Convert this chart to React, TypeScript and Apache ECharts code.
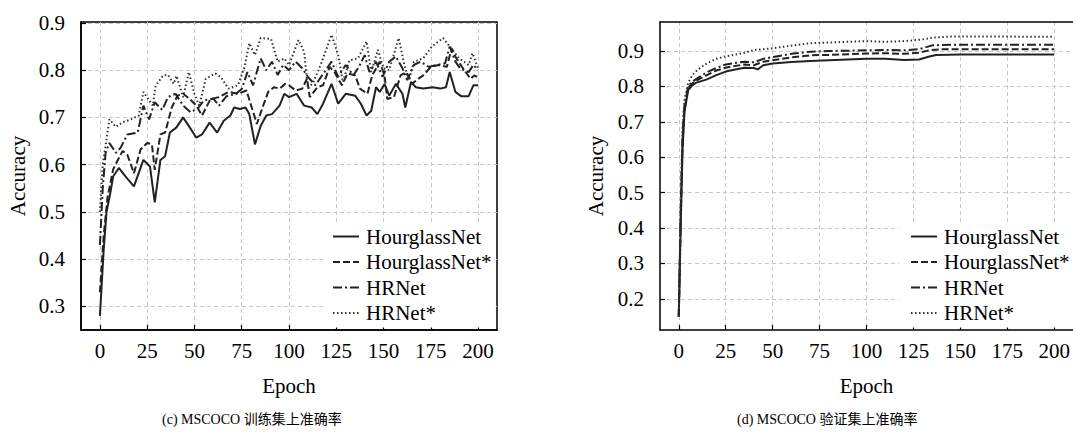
import React, { useEffect, useRef } from "react";
import * as echarts from "echarts";

const SERIES_NAMES = ["HourglassNet", "HourglassNet*", "HRNet", "HRNet*"];
const X_TICKS = [0, 25, 50, 75, 100, 125, 150, 175, 200];
const TRAIN_Y_TICKS = [0.3, 0.4, 0.5, 0.6, 0.7, 0.8, 0.9];
const VAL_Y_TICKS = [0.2, 0.3, 0.4, 0.5, 0.6, 0.7, 0.8, 0.9];
const CAPTION_TRAIN = "(c) MSCOCO 训练集上准确率";
const CAPTION_VAL = "(d) MSCOCO 验证集上准确率";

// Training accuracy [epoch, accuracy]
const trainHourglass = [
  [0, 0.28], [2, 0.42], [3.5, 0.5], [5.5, 0.54], [7, 0.575], [10, 0.593], [13.5, 0.575], [18, 0.554],
  [23, 0.61], [26.5, 0.596], [29, 0.52], [32, 0.61], [34.5, 0.618], [37, 0.668], [40.5, 0.679],
  [44, 0.7], [47.5, 0.679], [51, 0.657], [54, 0.664], [58, 0.689], [62, 0.668], [65.5, 0.693],
  [69, 0.704], [71, 0.721], [74, 0.718], [77, 0.721], [79, 0.707], [82, 0.643], [85, 0.682],
  [88, 0.704], [91, 0.707], [95, 0.725], [97.5, 0.75], [100, 0.743], [104, 0.75], [108, 0.725],
  [112, 0.721], [115, 0.707], [118, 0.729], [122.5, 0.771], [126, 0.729], [130, 0.75], [135, 0.746],
  [138, 0.729], [141, 0.704], [143.5, 0.714], [146, 0.764], [148, 0.754], [150.5, 0.771], [153, 0.746],
  [156.5, 0.771], [160, 0.75], [161.5, 0.721], [164.5, 0.775], [167, 0.764], [171, 0.761], [176, 0.764],
  [180, 0.761], [183, 0.764], [185, 0.796], [188, 0.754], [191, 0.745], [195, 0.745], [197.5, 0.768],
  [200, 0.768],
];
const trainHourglassStar = [
  [0, 0.33], [2, 0.45], [4, 0.53], [7, 0.59], [9.5, 0.61], [12, 0.629], [14.5, 0.621], [18, 0.582],
  [21.5, 0.632], [25, 0.646], [27.5, 0.643], [29, 0.589], [32, 0.664], [34.5, 0.668], [38, 0.721],
  [41, 0.746], [44, 0.75], [47.5, 0.739], [51, 0.725], [54, 0.704], [58.5, 0.739], [63, 0.743],
  [68, 0.754], [73, 0.75], [77.5, 0.757], [80, 0.725], [83, 0.686], [86, 0.721], [89, 0.754],
  [92, 0.764], [95, 0.761], [98, 0.771], [100, 0.768], [103.5, 0.757], [107, 0.761], [109.5, 0.782],
  [111, 0.743], [115, 0.764], [118, 0.768], [121.5, 0.807], [124, 0.796], [128, 0.768], [131, 0.793],
  [135, 0.789], [137.5, 0.761], [141.5, 0.75], [144, 0.789], [148, 0.818], [150.5, 0.789], [152, 0.739],
  [155.5, 0.743], [159, 0.789], [162, 0.796], [165, 0.771], [168.5, 0.782], [171, 0.789], [175, 0.807],
  [179, 0.811], [183.5, 0.807], [186, 0.846], [188.5, 0.825], [192, 0.804], [196, 0.782], [198, 0.789],
  [200, 0.785],
];
const trainHRNet = [
  [0, 0.43], [1.5, 0.55], [3, 0.625], [5, 0.646], [8.5, 0.625], [11, 0.636], [14.5, 0.664], [20, 0.668],
  [23, 0.725], [26, 0.696], [29, 0.732], [33, 0.716], [36, 0.743], [40, 0.75], [44, 0.725], [48, 0.711],
  [52, 0.72], [55, 0.736], [60, 0.74], [63, 0.725], [67, 0.745], [72, 0.75], [75, 0.76], [78, 0.796],
  [81, 0.768], [85, 0.825], [88, 0.8], [91, 0.818], [94, 0.79], [97, 0.811], [100, 0.8], [103.5, 0.818],
  [107, 0.804], [110, 0.786], [114, 0.768], [117, 0.786], [122.5, 0.818], [126, 0.786], [130, 0.811],
  [134, 0.789], [137, 0.807], [140, 0.832], [142.5, 0.796], [146, 0.818], [149.5, 0.786], [153, 0.818],
  [156.5, 0.829], [160, 0.804], [162.5, 0.779], [166, 0.811], [169.5, 0.818], [174, 0.807], [178, 0.811],
  [182.5, 0.814], [185, 0.85], [188, 0.818], [190.5, 0.804], [195, 0.796], [197.5, 0.811], [200, 0.8],
];
const trainHRNetStar = [
  [0, 0.5], [1.5, 0.6], [3, 0.64], [5, 0.696], [8.5, 0.68], [12, 0.69], [16, 0.695], [20.5, 0.704],
  [23, 0.754], [26, 0.736], [28, 0.725], [29.5, 0.768], [33.5, 0.789], [36, 0.79], [39, 0.771],
  [40.5, 0.788], [44, 0.743], [47, 0.796], [50, 0.75], [52.5, 0.725], [56, 0.782], [61, 0.793],
  [64, 0.785], [68, 0.761], [73, 0.768], [76.5, 0.807], [79, 0.857], [82, 0.832], [85, 0.868],
  [90.5, 0.866], [94, 0.818], [97.5, 0.825], [100, 0.811], [105, 0.864], [108, 0.839], [110, 0.761],
  [113, 0.775], [117, 0.814], [122.5, 0.875], [126, 0.832], [128.5, 0.775], [132, 0.821], [136.5, 0.825],
  [141, 0.861], [143.5, 0.796], [147, 0.843], [150, 0.804], [153, 0.8], [158, 0.868], [161, 0.811],
  [163.5, 0.779], [166, 0.818], [171, 0.825], [175.5, 0.85], [181.5, 0.868], [185, 0.85], [190, 0.825],
  [195, 0.811], [197, 0.836], [200, 0.804],
];

// Validation accuracy [epoch, accuracy]
const valHourglass = [
  [0, 0.15], [1, 0.4], [2, 0.62], [3, 0.726], [5, 0.79], [7, 0.802], [9, 0.81], [12, 0.815], [15, 0.82],
  [20, 0.832], [25, 0.842], [30, 0.848], [35, 0.853], [40, 0.852], [42, 0.848], [45, 0.86], [50, 0.865],
  [60, 0.869], [70, 0.872], [80, 0.874], [90, 0.876], [100, 0.878], [110, 0.878], [120, 0.875],
  [128, 0.876], [133, 0.884], [137, 0.889], [150, 0.89], [175, 0.89], [200, 0.89],
];
const valHourglassStar = [
  [0, 0.15], [1, 0.42], [2, 0.64], [3, 0.735], [5, 0.795], [7, 0.808], [9, 0.815], [12, 0.824],
  [15, 0.832], [20, 0.845], [25, 0.853], [30, 0.858], [35, 0.862], [40, 0.86], [45, 0.87], [50, 0.874],
  [60, 0.882], [70, 0.888], [80, 0.889], [90, 0.891], [100, 0.893], [110, 0.894], [120, 0.892],
  [128, 0.895], [134, 0.903], [140, 0.905], [170, 0.905], [200, 0.905],
];
const valHRNet = [
  [0, 0.15], [1, 0.44], [2, 0.66], [3, 0.745], [5, 0.8], [7, 0.812], [9, 0.82], [12, 0.83], [15, 0.84],
  [20, 0.852], [25, 0.862], [30, 0.866], [35, 0.87], [40, 0.868], [45, 0.878], [50, 0.883], [60, 0.892],
  [70, 0.898], [80, 0.9], [90, 0.901], [100, 0.902], [110, 0.903], [120, 0.902], [128, 0.905],
  [135, 0.916], [145, 0.918], [170, 0.918], [200, 0.918],
];
const valHRNetStar = [
  [0, 0.15], [1, 0.46], [2, 0.68], [3, 0.76], [5, 0.81], [7, 0.83], [9, 0.842], [12, 0.855], [15, 0.865],
  [20, 0.878], [25, 0.885], [30, 0.89], [35, 0.895], [40, 0.903], [45, 0.905], [50, 0.908], [60, 0.915],
  [70, 0.922], [80, 0.924], [90, 0.926], [100, 0.928], [110, 0.926], [120, 0.928], [125, 0.93],
  [130, 0.933], [135, 0.938], [145, 0.941], [170, 0.941], [200, 0.94],
];

const TRAIN_DATA = [trainHourglass, trainHourglassStar, trainHRNet, trainHRNetStar];
const VAL_DATA = [valHourglass, valHourglassStar, valHRNet, valHRNetStar];

const SERIF = "Liberation Serif, Times New Roman, serif";
const CAPTION_FONT = "14px Liberation Serif, Noto Sans CJK SC, serif";
const LINE_TYPES: any[] = ["solid", [7, 3], [9, 3, 2, 3], [1.5, 2.5]];
const LINE_COLORS = ["#222", "#222", "#222", "#333"];

function xAxisFor(gridIndex: number) {
  return {
    type: "value",
    gridIndex,
    min: -10,
    max: 210,
    name: "Epoch",
    nameLocation: "middle",
    nameGap: 45,
    nameTextStyle: { fontFamily: SERIF, fontSize: 21, color: "#000" },
    axisLine: { onZero: false, lineStyle: { color: "#000", width: 1.5 } },
    axisTick: { inside: true, length: 5, customValues: X_TICKS, lineStyle: { color: "#000", width: 1.2 } },
    axisLabel: { customValues: X_TICKS, margin: 10, fontFamily: SERIF, fontSize: 21, color: "#000" },
    splitLine: { show: true, lineStyle: { color: "#c8c8c8", type: [4, 3], width: 1 } },
  };
}

function topFrameAxis(gridIndex: number) {
  return {
    type: "value",
    gridIndex,
    position: "top",
    min: -10,
    max: 210,
    axisLine: { show: true, onZero: false, lineStyle: { color: "#000", width: 1.5 } },
    axisTick: { show: false },
    axisLabel: { show: false },
    splitLine: { show: false },
  };
}

function yAxisFor(gridIndex: number, min: number, max: number, ticks: number[], nameGap: number) {
  return {
    type: "value",
    gridIndex,
    min,
    max,
    name: "Accuracy",
    nameLocation: "middle",
    nameGap,
    nameTextStyle: { fontFamily: SERIF, fontSize: 21, color: "#000" },
    axisLine: { onZero: false, lineStyle: { color: "#000", width: 1.5 } },
    axisTick: { inside: true, length: 5, customValues: ticks, lineStyle: { color: "#000", width: 1.2 } },
    axisLabel: {
      customValues: ticks,
      margin: 16,
      fontFamily: SERIF,
      fontSize: 21,
      color: "#000",
      formatter: (v: number) => v.toFixed(1),
    },
    splitLine: { show: true, lineStyle: { color: "#c8c8c8", type: [4, 3], width: 1 } },
  };
}

function legendFor(left: number, padLeft: number) {
  return {
    left,
    top: 222,
    orient: "vertical",
    backgroundColor: "#fff",
    padding: [4, 4, 4, padLeft],
    itemWidth: 26,
    itemHeight: 14,
    itemGap: 4.5,
    itemStyle: { opacity: 0 },
    textStyle: { fontFamily: SERIF, fontSize: 21, color: "#000", padding: [0, 0, 0, 2] },
    data: SERIES_NAMES,
  };
}

export default function App() {
  const ref = useRef<HTMLDivElement>(null);
  useEffect(() => {
    if (!ref.current) return;
    const chart = echarts.init(ref.current, undefined, { renderer: "svg" });
    const series: any[] = [];
    [TRAIN_DATA, VAL_DATA].forEach((group, gi) => {
      group.forEach((data, si) => {
        series.push({
          type: "line",
          name: SERIES_NAMES[si],
          xAxisIndex: gi,
          yAxisIndex: gi,
          data,
          symbol: "none",
          showSymbol: false,
          lineStyle: { color: LINE_COLORS[si], width: 2, type: LINE_TYPES[si] },
          itemStyle: { color: LINE_COLORS[si] },
          z: 3,
        });
      });
    });
    chart.setOption({
      animation: false,
      backgroundColor: "#fff",
      grid: [
        { left: 81, top: 22, width: 416, height: 308, show: true, borderColor: "#000", borderWidth: 1.5, backgroundColor: "#fff" },
        { left: 660, top: 22, width: 416, height: 308, show: true, borderWidth: 0, borderColor: "transparent", backgroundColor: "#fff" },
      ],
      xAxis: [xAxisFor(0), xAxisFor(1), topFrameAxis(1)],
      yAxis: [yAxisFor(0, 0.25, 0.902, TRAIN_Y_TICKS, 53), yAxisFor(1, 0.112, 0.982, VAL_Y_TICKS, 54)],
      legend: [legendFor(323, 9), legendFor(899, 11)],
      series,
      graphic: [
        {
          type: "text",
          left: 250 - 88,
          top: 412,
          style: { text: CAPTION_TRAIN, font: CAPTION_FONT, fill: "#000" },
        },
        {
          type: "text",
          left: 825 - 88,
          top: 412,
          style: { text: CAPTION_VAL, font: CAPTION_FONT, fill: "#000" },
        },
      ],
    });
    return () => chart.dispose();
  }, []);
  return (
    <div
      ref={ref}
      style={{ position: "absolute", left: 0, top: 0, width: 1073, height: 432, background: "#fff" }}
    />
  );
}
